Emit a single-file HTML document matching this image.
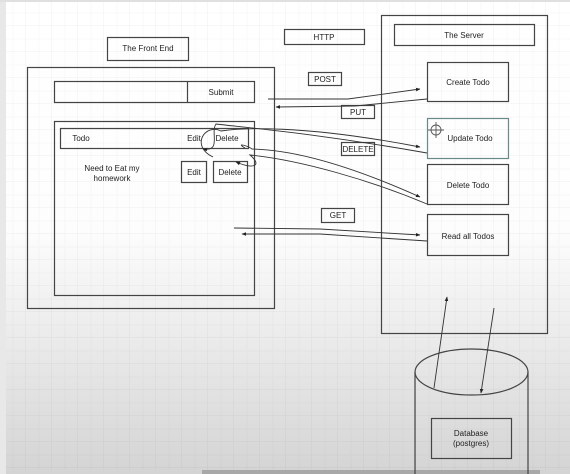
<!DOCTYPE html>
<html><head><meta charset="utf-8"><style>
html,body{margin:0;padding:0;width:570px;height:474px;overflow:hidden}
body{background:linear-gradient(#ffffff 0px,#fdfdfd 230px,#e4e4e4 380px,#d4d4d4 474px)}
svg{position:absolute;left:0;top:0}
text{font-family:"Liberation Sans",sans-serif;font-size:8px;fill:#222;text-anchor:middle}
</style></head><body>
<svg width="570" height="474" viewBox="0 0 570 474">
<defs>
<pattern id="g" width="26" height="26" patternUnits="userSpaceOnUse">
<path d="M26 0V26M0 26H26" stroke="#000" stroke-opacity="0.06" stroke-width="1" fill="none"/>
<path d="M13 0V26M0 13H26" stroke="#000" stroke-opacity="0.025" stroke-width="1" fill="none"/>
</pattern>
<marker id="a" viewBox="0 0 10 10" refX="9" refY="5" markerWidth="5" markerHeight="5" orient="auto"><path d="M0 1L10 5L0 9z" fill="#222"/></marker>
</defs>
<rect x="6" y="2" width="564" height="468" fill="url(#g)"/>
<rect x="0" y="0" width="6" height="474" fill="#e8e8e8"/>
<rect x="0" y="0" width="570" height="2" fill="#e0e0e0"/>
<rect x="202" y="470" width="338" height="4" fill="#a8a8a8"/>
<g fill="none" stroke="#444" stroke-width="1.2">
<rect x="107.5" y="37.5" width="81" height="23"/>
<rect x="27.5" y="67.5" width="247" height="241"/>
<rect x="54.5" y="81.5" width="200" height="21"/>
<line x1="187.5" y1="81.5" x2="187.5" y2="102.5"/>
<rect x="54.5" y="121.5" width="200" height="174"/>
<rect x="60.5" y="128.5" width="188" height="20"/>
<rect x="181.5" y="161.5" width="25" height="21"/>
<rect x="213.5" y="161.5" width="34" height="21"/>
<rect x="284.5" y="29.5" width="80" height="15"/>
<rect x="381.5" y="15.5" width="166" height="318"/>
<rect x="394.5" y="24.5" width="140" height="21"/>
<rect x="427.5" y="62.5" width="81" height="39"/>
<rect x="427.5" y="118.5" width="81" height="40" stroke="#6a8a8a"/>
<rect x="427.5" y="164.5" width="81" height="40"/>
<rect x="427.5" y="214.5" width="81" height="41"/>
<rect x="308.5" y="72.5" width="33" height="13"/>
<rect x="341.5" y="105.5" width="33" height="13"/>
<rect x="341.5" y="142.5" width="33" height="13"/>
<rect x="321.5" y="208.5" width="33" height="14"/>
<path d="M415 474V372M528 474V372"/>
<ellipse cx="471.5" cy="372" rx="56.5" ry="23"/>
<rect x="431.5" y="418.5" width="80" height="40"/>
</g>
<g fill="none" stroke="#333" stroke-width="0.9">
<path d="M268 99L348 99L420 89" marker-end="url(#a)"/>
<path d="M427 99L355 106L276 107" marker-end="url(#a)"/>
<path d="M213 157C190 146 205 123 221 131C240 128 300 124 420 147" marker-end="url(#a)"/>
<path d="M427 153C320 134 250 128 216 124C210 132 222 152 203 149" marker-end="url(#a)"/>
<path d="M245 148C235 142 248 146 252 149C300 150 360 170 420 197" marker-end="url(#a)"/>
<path d="M427 204C370 180 300 160 250 155C262 165 255 170 236 162" marker-end="url(#a)"/>
<path d="M234 228L320 229L420 235" marker-end="url(#a)"/>
<path d="M427 241L320 234L242 234" marker-end="url(#a)"/>
<path d="M434 388L447 297" marker-end="url(#a)"/>
<path d="M494 308L481 393" marker-end="url(#a)"/>
</g>
<text x="148" y="51">The Front End</text>
<text x="221" y="95">Submit</text>
<text x="81" y="141">Todo</text>
<text x="194" y="141">Edit</text>
<text x="227" y="141">Delete</text>
<text x="112" y="171">Need to Eat my</text>
<text x="112" y="181">homework</text>
<text x="194" y="175">Edit</text>
<text x="230" y="175">Delete</text>
<text x="324" y="40">HTTP</text>
<text x="464" y="38">The Server</text>
<text x="325" y="82">POST</text>
<text x="358" y="115">PUT</text>
<text x="358" y="152">DELETE</text>
<text x="338" y="218">GET</text>
<text x="468" y="85">Create Todo</text>
<text x="470" y="141">Update Todo</text>
<text x="468" y="188">Delete Todo</text>
<text x="468" y="239">Read all Todos</text>
<text x="471" y="436">Database</text>
<text x="471" y="446">(postgres)</text>
<g fill="none" stroke="#555" stroke-width="0.9"><circle cx="436" cy="130" r="5"/><path d="M436 122v16M428 130h16"/></g>
</svg>
</body></html>
